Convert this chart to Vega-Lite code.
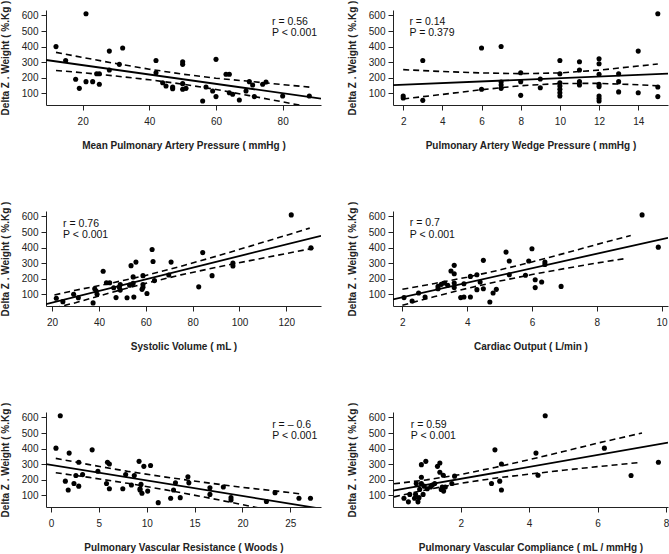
{
"$schema": "https://vega.github.io/schema/vega-lite/v6.json",
"padding": {"left": 0, "top": 0, "right": 1, "bottom": 1},
"background": "white",
"datasets": {
"pts": [
{"p":1,"x":12,"y":400},{"p":1,"x":14.9,"y":311},{"p":1,"x":21,"y":611},{"p":1,"x":17.9,"y":190},{"p":1,"x":19,"y":132},{"p":1,"x":21,"y":175},{"p":1,"x":23,"y":175},{"p":1,"x":24.2,"y":226},{"p":1,"x":25,"y":226},{"p":1,"x":25,"y":158},{"p":1,"x":28,"y":371},{"p":1,"x":28,"y":250},{"p":1,"x":31,"y":286},{"p":1,"x":32,"y":391},{"p":1,"x":42,"y":311},{"p":1,"x":42,"y":232},{"p":1,"x":44,"y":168},{"p":1,"x":45,"y":147},{"p":1,"x":47,"y":141},{"p":1,"x":47,"y":130},{"p":1,"x":50,"y":303},{"p":1,"x":50,"y":286},{"p":1,"x":50,"y":162},{"p":1,"x":50,"y":126},{"p":1,"x":51,"y":132},{"p":1,"x":56,"y":51},{"p":1,"x":57,"y":141},{"p":1,"x":59,"y":115},{"p":1,"x":60,"y":318},{"p":1,"x":60,"y":79},{"p":1,"x":63,"y":222},{"p":1,"x":64,"y":222},{"p":1,"x":64,"y":104},{"p":1,"x":65,"y":94},{"p":1,"x":67,"y":57},{"p":1,"x":69,"y":115},{"p":1,"x":70,"y":175},{"p":1,"x":71,"y":153},{"p":1,"x":71.5,"y":79},{"p":1,"x":74,"y":158},{"p":1,"x":75,"y":173},{"p":1,"x":80,"y":83},{"p":1,"x":88,"y":83},
{"p":2,"x":2,"y":83},{"p":2,"x":2,"y":70},{"p":2,"x":3,"y":311},{"p":2,"x":3,"y":55},{"p":2,"x":6,"y":391},{"p":2,"x":6,"y":126},{"p":2,"x":7,"y":401},{"p":2,"x":7,"y":173},{"p":2,"x":7,"y":153},{"p":2,"x":7,"y":132},{"p":2,"x":8,"y":232},{"p":2,"x":8,"y":175},{"p":2,"x":8,"y":87},{"p":2,"x":9,"y":192},{"p":2,"x":9,"y":136},{"p":2,"x":10,"y":311},{"p":2,"x":10,"y":226},{"p":2,"x":10,"y":168},{"p":2,"x":10,"y":147},{"p":2,"x":10,"y":126},{"p":2,"x":10,"y":104},{"p":2,"x":10,"y":83},{"p":2,"x":11,"y":303},{"p":2,"x":11,"y":250},{"p":2,"x":11,"y":175},{"p":2,"x":11,"y":153},{"p":2,"x":12,"y":322},{"p":2,"x":12,"y":290},{"p":2,"x":12,"y":222},{"p":2,"x":12,"y":158},{"p":2,"x":12,"y":143},{"p":2,"x":12,"y":83},{"p":2,"x":12,"y":66},{"p":2,"x":12,"y":51},{"p":2,"x":13,"y":226},{"p":2,"x":13,"y":175},{"p":2,"x":13,"y":109},{"p":2,"x":14,"y":371},{"p":2,"x":14,"y":104},{"p":2,"x":15,"y":611},{"p":2,"x":15,"y":141},{"p":2,"x":15,"y":79},
{"p":3,"x":21.8,"y":75},{"p":3,"x":24.6,"y":53},{"p":3,"x":29.2,"y":100},{"p":3,"x":31.2,"y":78},{"p":3,"x":37.5,"y":45},{"p":3,"x":38.2,"y":136},{"p":3,"x":38.8,"y":121},{"p":3,"x":39.2,"y":100},{"p":3,"x":41.8,"y":248},{"p":3,"x":43.2,"y":174},{"p":3,"x":44.6,"y":174},{"p":3,"x":46.3,"y":142},{"p":3,"x":47.3,"y":79},{"p":3,"x":48.7,"y":146},{"p":3,"x":49.1,"y":127},{"p":3,"x":49.1,"y":163},{"p":3,"x":52,"y":78},{"p":3,"x":53.1,"y":159},{"p":3,"x":53.7,"y":284},{"p":3,"x":54.6,"y":212},{"p":3,"x":54.6,"y":170},{"p":3,"x":54.9,"y":82},{"p":3,"x":55.8,"y":307},{"p":3,"x":58.4,"y":132},{"p":3,"x":58.8,"y":220},{"p":3,"x":58.8,"y":163},{"p":3,"x":58.8,"y":145},{"p":3,"x":60.5,"y":105},{"p":3,"x":62.7,"y":388},{"p":3,"x":63.1,"y":311},{"p":3,"x":63.7,"y":188},{"p":3,"x":69.8,"y":224},{"p":3,"x":70.8,"y":307},{"p":3,"x":82.6,"y":148},{"p":3,"x":84.3,"y":368},{"p":3,"x":88.3,"y":220},{"p":3,"x":97.2,"y":300},{"p":3,"x":97.2,"y":282},{"p":3,"x":122.1,"y":610},{"p":3,"x":130.5,"y":398},
{"p":4,"x":2.05,"y":79},{"p":4,"x":2.3,"y":57},{"p":4,"x":2.5,"y":108},{"p":4,"x":2.7,"y":83},{"p":4,"x":3.1,"y":151},{"p":4,"x":3.1,"y":136},{"p":4,"x":3.2,"y":164},{"p":4,"x":3.3,"y":173},{"p":4,"x":3.4,"y":158},{"p":4,"x":3.5,"y":250},{"p":4,"x":3.6,"y":232},{"p":4,"x":3.6,"y":286},{"p":4,"x":3.6,"y":173},{"p":4,"x":3.6,"y":143},{"p":4,"x":3.8,"y":79},{"p":4,"x":3.9,"y":83},{"p":4,"x":3.9,"y":168},{"p":4,"x":4.1,"y":83},{"p":4,"x":4.1,"y":215},{"p":4,"x":4.3,"y":226},{"p":4,"x":4.3,"y":130},{"p":4,"x":4.4,"y":179},{"p":4,"x":4.5,"y":318},{"p":4,"x":4.5,"y":136},{"p":4,"x":4.7,"y":51},{"p":4,"x":4.8,"y":108},{"p":4,"x":4.9,"y":132},{"p":4,"x":5.2,"y":371},{"p":4,"x":5.3,"y":314},{"p":4,"x":5.3,"y":226},{"p":4,"x":5.8,"y":222},{"p":4,"x":5.9,"y":314},{"p":4,"x":6.0,"y":393},{"p":4,"x":6.1,"y":194},{"p":4,"x":6.1,"y":143},{"p":4,"x":6.3,"y":179},{"p":4,"x":6.4,"y":307},{"p":4,"x":6.4,"y":292},{"p":4,"x":6.9,"y":151},{"p":4,"x":9.4,"y":610},{"p":4,"x":9.9,"y":403},
{"p":5,"x":0.52,"y":403},{"p":5,"x":0.97,"y":611},{"p":5,"x":1.5,"y":191},{"p":5,"x":1.8,"y":134},{"p":5,"x":1.9,"y":371},{"p":5,"x":2.4,"y":176},{"p":5,"x":2.6,"y":227},{"p":5,"x":2.9,"y":159},{"p":5,"x":2.9,"y":312},{"p":5,"x":3.3,"y":233},{"p":5,"x":4.3,"y":392},{"p":5,"x":4.9,"y":255},{"p":5,"x":5.8,"y":176},{"p":5,"x":5.9,"y":312},{"p":5,"x":6.1,"y":301},{"p":5,"x":6.1,"y":142},{"p":5,"x":7.5,"y":142},{"p":5,"x":7.8,"y":233},{"p":5,"x":8.4,"y":166},{"p":5,"x":8.7,"y":227},{"p":5,"x":9.2,"y":318},{"p":5,"x":9.3,"y":142},{"p":5,"x":9.3,"y":134},{"p":5,"x":9.4,"y":170},{"p":5,"x":9.5,"y":113},{"p":5,"x":9.7,"y":286},{"p":5,"x":10.1,"y":127},{"p":5,"x":10.4,"y":291},{"p":5,"x":11.2,"y":53},{"p":5,"x":12.5,"y":81},{"p":5,"x":12.8,"y":134},{"p":5,"x":13.0,"y":180},{"p":5,"x":13.5,"y":85},{"p":5,"x":14.3,"y":219},{"p":5,"x":14.4,"y":180},{"p":5,"x":16.6,"y":149},{"p":5,"x":16.6,"y":106},{"p":5,"x":18.0,"y":153},{"p":5,"x":18.8,"y":85},{"p":5,"x":18.8,"y":70},{"p":5,"x":22.5,"y":60},{"p":5,"x":23.4,"y":117},{"p":5,"x":25.9,"y":81},{"p":5,"x":27.1,"y":81},
{"p":6,"x":0.34,"y":81},{"p":6,"x":0.47,"y":58},{"p":6,"x":0.51,"y":106},{"p":6,"x":0.65,"y":81},{"p":6,"x":0.68,"y":106},{"p":6,"x":0.70,"y":176},{"p":6,"x":0.75,"y":58},{"p":6,"x":0.78,"y":85},{"p":6,"x":0.80,"y":138},{"p":6,"x":0.85,"y":216},{"p":6,"x":0.85,"y":176},{"p":6,"x":0.85,"y":297},{"p":6,"x":0.90,"y":106},{"p":6,"x":0.93,"y":159},{"p":6,"x":0.98,"y":318},{"p":6,"x":1.02,"y":142},{"p":6,"x":1.12,"y":153},{"p":6,"x":1.17,"y":166},{"p":6,"x":1.24,"y":176},{"p":6,"x":1.32,"y":286},{"p":6,"x":1.39,"y":308},{"p":6,"x":1.39,"y":248},{"p":6,"x":1.43,"y":138},{"p":6,"x":1.46,"y":153},{"p":6,"x":1.5,"y":127},{"p":6,"x":1.55,"y":153},{"p":6,"x":1.49,"y":229},{"p":6,"x":1.74,"y":176},{"p":6,"x":1.82,"y":223},{"p":6,"x":2.9,"y":176},{"p":6,"x":3.0,"y":392},{"p":6,"x":3.14,"y":191},{"p":6,"x":3.19,"y":301},{"p":6,"x":3.19,"y":134},{"p":6,"x":4.2,"y":371},{"p":6,"x":4.26,"y":229},{"p":6,"x":4.47,"y":611},{"p":6,"x":6.2,"y":403},{"p":6,"x":6.98,"y":227},{"p":6,"x":7.78,"y":312}
],
"fit": [
{"p":1,"x":9,"y":314},{"p":1,"x":91.5,"y":66},
{"p":2,"x":1.48,"y":153},{"p":2,"x":15.52,"y":226},
{"p":3,"x":17.4,"y":37},{"p":3,"x":134.8,"y":476},
{"p":4,"x":1.71,"y":68},{"p":4,"x":10.2,"y":463},
{"p":5,"x":-0.52,"y":301},{"p":5,"x":28.2,"y":14},
{"p":6,"x":0.02,"y":130},{"p":6,"x":8.06,"y":438}
],
"band": [
{"p":1,"b":"u","x":12,"y":363},{"p":1,"b":"u","x":20,"y":330},{"p":1,"b":"u","x":30,"y":291},{"p":1,"b":"u","x":40,"y":255},{"p":1,"b":"u","x":50,"y":223},{"p":1,"b":"u","x":60,"y":197},{"p":1,"b":"u","x":70,"y":177},{"p":1,"b":"u","x":80,"y":156},{"p":1,"b":"u","x":88,"y":140},
{"p":1,"b":"l","x":12,"y":247},{"p":1,"b":"l","x":20,"y":232},{"p":1,"b":"l","x":30,"y":211},{"p":1,"b":"l","x":40,"y":187},{"p":1,"b":"l","x":50,"y":159},{"p":1,"b":"l","x":60,"y":125},{"p":1,"b":"l","x":70,"y":85},{"p":1,"b":"l","x":80,"y":45},{"p":1,"b":"l","x":88,"y":12},
{"p":2,"b":"u","x":2,"y":252},{"p":2,"b":"u","x":4,"y":240},{"p":2,"b":"u","x":6,"y":231},{"p":2,"b":"u","x":8,"y":226},{"p":2,"b":"u","x":10,"y":231},{"p":2,"b":"u","x":12,"y":249},{"p":2,"b":"u","x":14,"y":275},{"p":2,"b":"u","x":15,"y":288},
{"p":2,"b":"l","x":2,"y":64},{"p":2,"b":"l","x":4,"y":93},{"p":2,"b":"l","x":6,"y":123},{"p":2,"b":"l","x":8,"y":149},{"p":2,"b":"l","x":10,"y":163},{"p":2,"b":"l","x":12,"y":164},{"p":2,"b":"l","x":14,"y":155},{"p":2,"b":"l","x":15,"y":148},
{"p":3,"b":"u","x":21,"y":96},{"p":3,"b":"u","x":30,"y":126},{"p":3,"b":"u","x":45,"y":171},{"p":3,"b":"u","x":60,"y":221},{"p":3,"b":"u","x":75,"y":280},{"p":3,"b":"u","x":90,"y":344},{"p":3,"b":"u","x":105,"y":411},{"p":3,"b":"u","x":120,"y":479},{"p":3,"b":"u","x":130,"y":525},
{"p":3,"b":"l","x":21,"y":13},{"p":3,"b":"l","x":30,"y":46},{"p":3,"b":"l","x":45,"y":111},{"p":3,"b":"l","x":60,"y":171},{"p":3,"b":"l","x":75,"y":225},{"p":3,"b":"l","x":90,"y":273},{"p":3,"b":"l","x":105,"y":318},{"p":3,"b":"l","x":120,"y":362},{"p":3,"b":"l","x":133,"y":400},
{"p":4,"b":"u","x":2,"y":132},{"p":4,"b":"u","x":3,"y":170},{"p":4,"b":"u","x":4,"y":210},{"p":4,"b":"u","x":5,"y":256},{"p":4,"b":"u","x":6,"y":308},{"p":4,"b":"u","x":7,"y":363},{"p":4,"b":"u","x":8,"y":420},{"p":4,"b":"u","x":9.05,"y":478},
{"p":4,"b":"l","x":2,"y":30},{"p":4,"b":"l","x":3,"y":86},{"p":4,"b":"l","x":4,"y":138},{"p":4,"b":"l","x":5,"y":185},{"p":4,"b":"l","x":6,"y":227},{"p":4,"b":"l","x":7,"y":265},{"p":4,"b":"l","x":8,"y":301},{"p":4,"b":"l","x":8.9,"y":330},
{"p":5,"b":"u","x":0.5,"y":337},{"p":5,"b":"u","x":4,"y":297},{"p":5,"b":"u","x":8,"y":254},{"p":5,"b":"u","x":12,"y":217},{"p":5,"b":"u","x":16,"y":183},{"p":5,"b":"u","x":20,"y":151},{"p":5,"b":"u","x":24,"y":124},{"p":5,"b":"u","x":26,"y":110},
{"p":5,"b":"l","x":0.5,"y":245},{"p":5,"b":"l","x":4,"y":215},{"p":5,"b":"l","x":8,"y":177},{"p":5,"b":"l","x":12,"y":135},{"p":5,"b":"l","x":16,"y":89},{"p":5,"b":"l","x":20,"y":40},{"p":5,"b":"l","x":24,"y":-10},
{"p":6,"b":"u","x":0.05,"y":174},{"p":6,"b":"u","x":1,"y":199},{"p":6,"b":"u","x":2,"y":234},{"p":6,"b":"u","x":3,"y":279},{"p":6,"b":"u","x":4,"y":329},{"p":6,"b":"u","x":5,"y":381},{"p":6,"b":"u","x":6,"y":435},{"p":6,"b":"u","x":7.3,"y":500},
{"p":6,"b":"l","x":0.05,"y":90},{"p":6,"b":"l","x":1,"y":136},{"p":6,"b":"l","x":2,"y":177},{"p":6,"b":"l","x":3,"y":210},{"p":6,"b":"l","x":4,"y":236},{"p":6,"b":"l","x":5,"y":261},{"p":6,"b":"l","x":6,"y":284},{"p":6,"b":"l","x":7.2,"y":310}
],
"notes": [
{"p":1,"x":76.8,"y":557,"t":"r = 0.56"},{"p":1,"x":76.8,"y":485,"t":"P < 0.001"},
{"p":2,"x":2.32,"y":557,"t":"r = 0.14"},{"p":2,"x":2.32,"y":485,"t":"P = 0.379"},
{"p":3,"x":24.7,"y":550,"t":"r = 0.76"},{"p":3,"x":24.7,"y":481,"t":"P < 0.001"},
{"p":4,"x":2.23,"y":555,"t":"r = 0.7"},{"p":4,"x":2.23,"y":484,"t":"P < 0.001"},
{"p":5,"x":23.1,"y":552,"t":"r = – 0.6"},{"p":5,"x":23.1,"y":481,"t":"P < 0.001"},
{"p":6,"x":0.54,"y":552,"t":"r = 0.59"},{"p":6,"x":0.54,"y":481,"t":"P < 0.001"}
]
},
"columns": 2,
"bounds": "flush",
"spacing": {"row": 106, "column": 72},
"concat": [
{"width": 275, "height": 95, "layer": [
 {"data": {"name": "pts"}, "transform": [{"filter": "datum.p == 1"}], "mark": {"type": "circle", "size": 26, "color": "black", "opacity": 1},
  "encoding": {"x": {"field": "x", "type": "quantitative", "scale": {"domain": [9, 91.5], "nice": false, "zero": false}, "axis": {"values": [20,40,60,80], "tickCount": 20, "format": "d", "labelOverlap": false, "title": "Mean Pulmonary Artery Pressure ( mmHg )"}},
   "y": {"field": "y", "type": "quantitative", "scale": {"domain": [25, 635], "nice": false, "zero": false}, "axis": {"values": [100,200,300,400,500,600], "tickCount": 20, "format": "d", "labelOverlap": false, "title": "Delta Z . Weight ( %.Kg )"}}}},
 {"data": {"name": "fit"}, "transform": [{"filter": "datum.p == 1"}], "mark": {"type": "line", "color": "black", "strokeWidth": 1.8, "clip": true}, "encoding": {"x": {"field": "x", "type": "quantitative"}, "y": {"field": "y", "type": "quantitative"}}},
 {"data": {"name": "band"}, "transform": [{"filter": "datum.p == 1"}], "mark": {"type": "line", "color": "black", "strokeWidth": 1.6, "strokeDash": [6, 4], "clip": true}, "encoding": {"x": {"field": "x", "type": "quantitative"}, "y": {"field": "y", "type": "quantitative"}, "detail": {"field": "b"}}},
 {"data": {"name": "notes"}, "transform": [{"filter": "datum.p == 1"}], "mark": {"type": "text", "align": "left", "baseline": "middle", "fontSize": 10.5, "color": "#111"}, "encoding": {"x": {"field": "x", "type": "quantitative"}, "y": {"field": "y", "type": "quantitative"}, "text": {"field": "t"}}}
]},
{"width": 275, "height": 95, "layer": [
 {"data": {"name": "pts"}, "transform": [{"filter": "datum.p == 2"}], "mark": {"type": "circle", "size": 26, "color": "black", "opacity": 1},
  "encoding": {"x": {"field": "x", "type": "quantitative", "scale": {"domain": [1.48, 15.52], "nice": false, "zero": false}, "axis": {"values": [2,4,6,8,10,12,14], "tickCount": 20, "format": "d", "labelOverlap": false, "title": "Pulmonary Artery Wedge Pressure ( mmHg )"}},
   "y": {"field": "y", "type": "quantitative", "scale": {"domain": [25, 635], "nice": false, "zero": false}, "axis": {"values": [100,200,300,400,500,600], "tickCount": 20, "format": "d", "labelOverlap": false, "title": "Delta Z . Weight ( %.Kg )"}}}},
 {"data": {"name": "fit"}, "transform": [{"filter": "datum.p == 2"}], "mark": {"type": "line", "color": "black", "strokeWidth": 1.8, "clip": true}, "encoding": {"x": {"field": "x", "type": "quantitative"}, "y": {"field": "y", "type": "quantitative"}}},
 {"data": {"name": "band"}, "transform": [{"filter": "datum.p == 2"}], "mark": {"type": "line", "color": "black", "strokeWidth": 1.6, "strokeDash": [6, 4], "clip": true}, "encoding": {"x": {"field": "x", "type": "quantitative"}, "y": {"field": "y", "type": "quantitative"}, "detail": {"field": "b"}}},
 {"data": {"name": "notes"}, "transform": [{"filter": "datum.p == 2"}], "mark": {"type": "text", "align": "left", "baseline": "middle", "fontSize": 10.5, "color": "#111"}, "encoding": {"x": {"field": "x", "type": "quantitative"}, "y": {"field": "y", "type": "quantitative"}, "text": {"field": "t"}}}
]},
{"width": 275, "height": 95, "layer": [
 {"data": {"name": "pts"}, "transform": [{"filter": "datum.p == 3"}], "mark": {"type": "circle", "size": 26, "color": "black", "opacity": 1},
  "encoding": {"x": {"field": "x", "type": "quantitative", "scale": {"domain": [17.4, 134.8], "nice": false, "zero": false}, "axis": {"values": [20,40,60,80,100,120], "tickCount": 20, "format": "d", "labelOverlap": false, "title": "Systolic Volume ( mL )"}},
   "y": {"field": "y", "type": "quantitative", "scale": {"domain": [25, 635], "nice": false, "zero": false}, "axis": {"values": [100,200,300,400,500,600], "tickCount": 20, "format": "d", "labelOverlap": false, "title": "Delta Z . Weight ( %.Kg )"}}}},
 {"data": {"name": "fit"}, "transform": [{"filter": "datum.p == 3"}], "mark": {"type": "line", "color": "black", "strokeWidth": 1.8, "clip": true}, "encoding": {"x": {"field": "x", "type": "quantitative"}, "y": {"field": "y", "type": "quantitative"}}},
 {"data": {"name": "band"}, "transform": [{"filter": "datum.p == 3"}], "mark": {"type": "line", "color": "black", "strokeWidth": 1.6, "strokeDash": [6, 4], "clip": true}, "encoding": {"x": {"field": "x", "type": "quantitative"}, "y": {"field": "y", "type": "quantitative"}, "detail": {"field": "b"}}},
 {"data": {"name": "notes"}, "transform": [{"filter": "datum.p == 3"}], "mark": {"type": "text", "align": "left", "baseline": "middle", "fontSize": 10.5, "color": "#111"}, "encoding": {"x": {"field": "x", "type": "quantitative"}, "y": {"field": "y", "type": "quantitative"}, "text": {"field": "t"}}}
]},
{"width": 275, "height": 95, "layer": [
 {"data": {"name": "pts"}, "transform": [{"filter": "datum.p == 4"}], "mark": {"type": "circle", "size": 26, "color": "black", "opacity": 1},
  "encoding": {"x": {"field": "x", "type": "quantitative", "scale": {"domain": [1.71, 10.2], "nice": false, "zero": false}, "axis": {"values": [2,4,6,8,10], "tickCount": 20, "format": "d", "labelOverlap": false, "title": "Cardiac Output ( L/min )"}},
   "y": {"field": "y", "type": "quantitative", "scale": {"domain": [25, 635], "nice": false, "zero": false}, "axis": {"values": [100,200,300,400,500,600], "tickCount": 20, "format": "d", "labelOverlap": false, "title": "Delta Z . Weight ( %.Kg )"}}}},
 {"data": {"name": "fit"}, "transform": [{"filter": "datum.p == 4"}], "mark": {"type": "line", "color": "black", "strokeWidth": 1.8, "clip": true}, "encoding": {"x": {"field": "x", "type": "quantitative"}, "y": {"field": "y", "type": "quantitative"}}},
 {"data": {"name": "band"}, "transform": [{"filter": "datum.p == 4"}], "mark": {"type": "line", "color": "black", "strokeWidth": 1.6, "strokeDash": [6, 4], "clip": true}, "encoding": {"x": {"field": "x", "type": "quantitative"}, "y": {"field": "y", "type": "quantitative"}, "detail": {"field": "b"}}},
 {"data": {"name": "notes"}, "transform": [{"filter": "datum.p == 4"}], "mark": {"type": "text", "align": "left", "baseline": "middle", "fontSize": 10.5, "color": "#111"}, "encoding": {"x": {"field": "x", "type": "quantitative"}, "y": {"field": "y", "type": "quantitative"}, "text": {"field": "t"}}}
]},
{"width": 275, "height": 95, "layer": [
 {"data": {"name": "pts"}, "transform": [{"filter": "datum.p == 5"}], "mark": {"type": "circle", "size": 26, "color": "black", "opacity": 1},
  "encoding": {"x": {"field": "x", "type": "quantitative", "scale": {"domain": [-0.52, 28.2], "nice": false, "zero": false}, "axis": {"values": [0,5,10,15,20,25], "tickCount": 20, "format": "d", "labelOverlap": false, "title": "Pulmonary Vascular Resistance ( Woods )"}},
   "y": {"field": "y", "type": "quantitative", "scale": {"domain": [25, 635], "nice": false, "zero": false}, "axis": {"values": [100,200,300,400,500,600], "tickCount": 20, "format": "d", "labelOverlap": false, "title": "Delta Z . Weight ( %.Kg )"}}}},
 {"data": {"name": "fit"}, "transform": [{"filter": "datum.p == 5"}], "mark": {"type": "line", "color": "black", "strokeWidth": 1.8, "clip": true}, "encoding": {"x": {"field": "x", "type": "quantitative"}, "y": {"field": "y", "type": "quantitative"}}},
 {"data": {"name": "band"}, "transform": [{"filter": "datum.p == 5"}], "mark": {"type": "line", "color": "black", "strokeWidth": 1.6, "strokeDash": [6, 4], "clip": true}, "encoding": {"x": {"field": "x", "type": "quantitative"}, "y": {"field": "y", "type": "quantitative"}, "detail": {"field": "b"}}},
 {"data": {"name": "notes"}, "transform": [{"filter": "datum.p == 5"}], "mark": {"type": "text", "align": "left", "baseline": "middle", "fontSize": 10.5, "color": "#111"}, "encoding": {"x": {"field": "x", "type": "quantitative"}, "y": {"field": "y", "type": "quantitative"}, "text": {"field": "t"}}}
]},
{"width": 275, "height": 95, "layer": [
 {"data": {"name": "pts"}, "transform": [{"filter": "datum.p == 6"}], "mark": {"type": "circle", "size": 26, "color": "black", "opacity": 1},
  "encoding": {"x": {"field": "x", "type": "quantitative", "scale": {"domain": [0.02, 8.06], "nice": false, "zero": false}, "axis": {"values": [2,4,6,8], "tickCount": 20, "format": "d", "labelOverlap": false, "title": "Pulmonary Vascular Compliance ( mL / mmHg )"}},
   "y": {"field": "y", "type": "quantitative", "scale": {"domain": [25, 635], "nice": false, "zero": false}, "axis": {"values": [100,200,300,400,500,600], "tickCount": 20, "format": "d", "labelOverlap": false, "title": "Delta Z . Weight ( %.Kg )"}}}},
 {"data": {"name": "fit"}, "transform": [{"filter": "datum.p == 6"}], "mark": {"type": "line", "color": "black", "strokeWidth": 1.8, "clip": true}, "encoding": {"x": {"field": "x", "type": "quantitative"}, "y": {"field": "y", "type": "quantitative"}}},
 {"data": {"name": "band"}, "transform": [{"filter": "datum.p == 6"}], "mark": {"type": "line", "color": "black", "strokeWidth": 1.6, "strokeDash": [6, 4], "clip": true}, "encoding": {"x": {"field": "x", "type": "quantitative"}, "y": {"field": "y", "type": "quantitative"}, "detail": {"field": "b"}}},
 {"data": {"name": "notes"}, "transform": [{"filter": "datum.p == 6"}], "mark": {"type": "text", "align": "left", "baseline": "middle", "fontSize": 10.5, "color": "#111"}, "encoding": {"x": {"field": "x", "type": "quantitative"}, "y": {"field": "y", "type": "quantitative"}, "text": {"field": "t"}}}
]}
],
"config": {
 "view": {"stroke": null},
 "font": "Liberation Sans",
 "axis": {"grid": false, "domainColor": "#222", "domainWidth": 1, "tickColor": "#222", "tickSize": 5, "labelFont": "Liberation Sans", "labelFontSize": 10, "labelColor": "#222", "titleFont": "Liberation Sans", "titleFontSize": 10, "titleFontWeight": "bold", "titleColor": "#222", "labelFlush": false, "labelOverlap": false},
 "axisX": {"labelPadding": 6, "titlePadding": 14},
 "axisY": {"labelPadding": 3, "titlePadding": 11, "labelAngle": 0},
 "text": {"font": "Liberation Sans"}
}
}
